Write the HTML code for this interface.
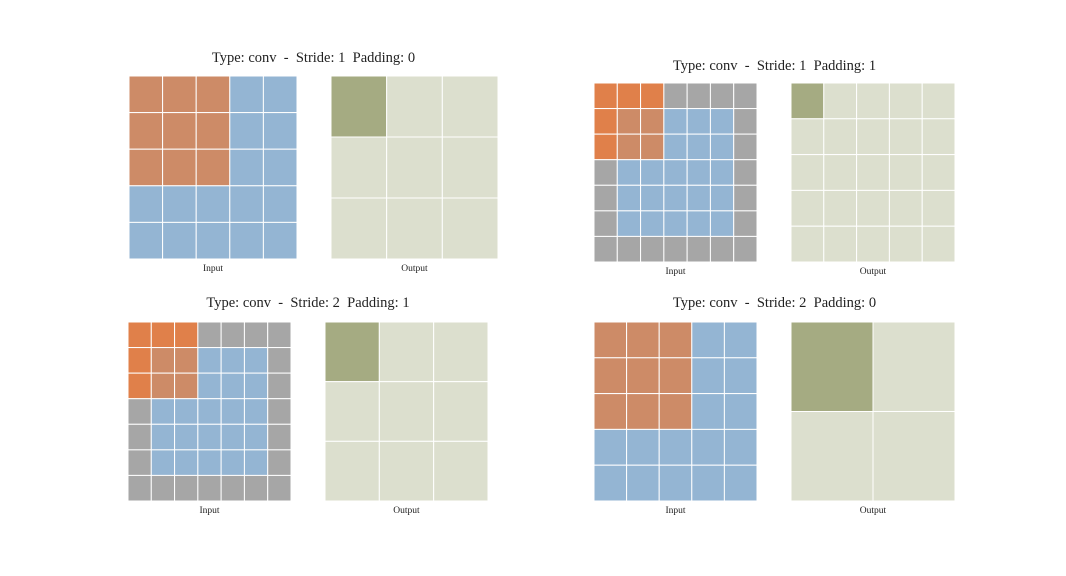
<!DOCTYPE html>
<html><head><meta charset="utf-8"><style>
html,body{margin:0;padding:0;background:#fff;width:1066px;height:576px;overflow:hidden}
svg{display:block}
text{font-family:"Liberation Serif","DejaVu Serif",serif;fill:#222}
</style></head><body>
<svg id="c" width="1066" height="576"></svg>
<script>
const types=["conv","conv","conv","conv"];
const inputSizes=[5,5,5,5];
const strides=[1,1,2,2];
const paddings=[0,1,1,0];
const kernelSize=3;
const NS="http://www.w3.org/2000/svg";
const svg=document.getElementById('c');
// layout: [inX,inY,inW,inH,outX,outW,titleY]
const layout=[[129,76,168,183,331,167,57],[594,83,163,179,791,164,65],[128,322,163,179,325,163,302],[594,322,163,179,791,164,302]];
const C={ov:"#cd8b67",kp:"#e0804a",in:"#94b5d3",pad:"#a6a6a6",out:"#dcdfce",outk:"#a5ab82"};
function mk(tag,attrs,parent){const e=document.createElementNS(NS,tag);for(const k in attrs)e.setAttribute(k,attrs[k]);(parent||svg).appendChild(e);return e;}
function grid(g,x,y,w,h,n,colorFn,name){
  const cw=w/n,ch=h/n;
  for(let r=0;r<n;r++)for(let c=0;c<n;c++){
    const e=mk('rect',{x:x+c*cw,y:y+r*ch,width:cw,height:ch,fill:colorFn(r,c),stroke:"#fff","stroke-width":1},g);
    
    
  }
}
for(let i=0;i<4;i++){
  const [ix,iy,iw,ih,ox,ow,ty]=layout[i];
  const n=inputSizes[i],p=paddings[i],s=strides[i];
  const N=n+2*p, o=Math.floor((n+2*p-kernelSize)/s)+1;
  const g=mk('g',{});
  
  
  const t=mk('text',{x:(ix+ox+ow)/2,y:ty+5,"text-anchor":"middle","font-size":14.5},g);
  t.textContent="Type: "+types[i]+"  -  Stride: "+s+"  Padding: "+p;
  t.setAttribute('xml:space','preserve');t.style.whiteSpace='pre';
  
  
  grid(g,ix,iy,iw,ih,N,(r,c)=>{const k=r<kernelSize&&c<kernelSize;const pd=r<p||c<p||r>=N-p||c>=N-p;return k?(pd?C.kp:C.ov):(pd?C.pad:C.in);},'input');
  grid(g,ox,iy,ow,ih,o,(r,c)=>(r==0&&c==0)?C.outk:C.out,'output');
  const l1=mk('text',{x:ix+iw/2,y:iy+ih+12,"text-anchor":"middle","font-size":9.5},g);l1.textContent="Input";
  
  
  const l2=mk('text',{x:ox+ow/2,y:iy+ih+12,"text-anchor":"middle","font-size":9.5},g);l2.textContent="Output";
  
  
}
</script>
</body></html>
